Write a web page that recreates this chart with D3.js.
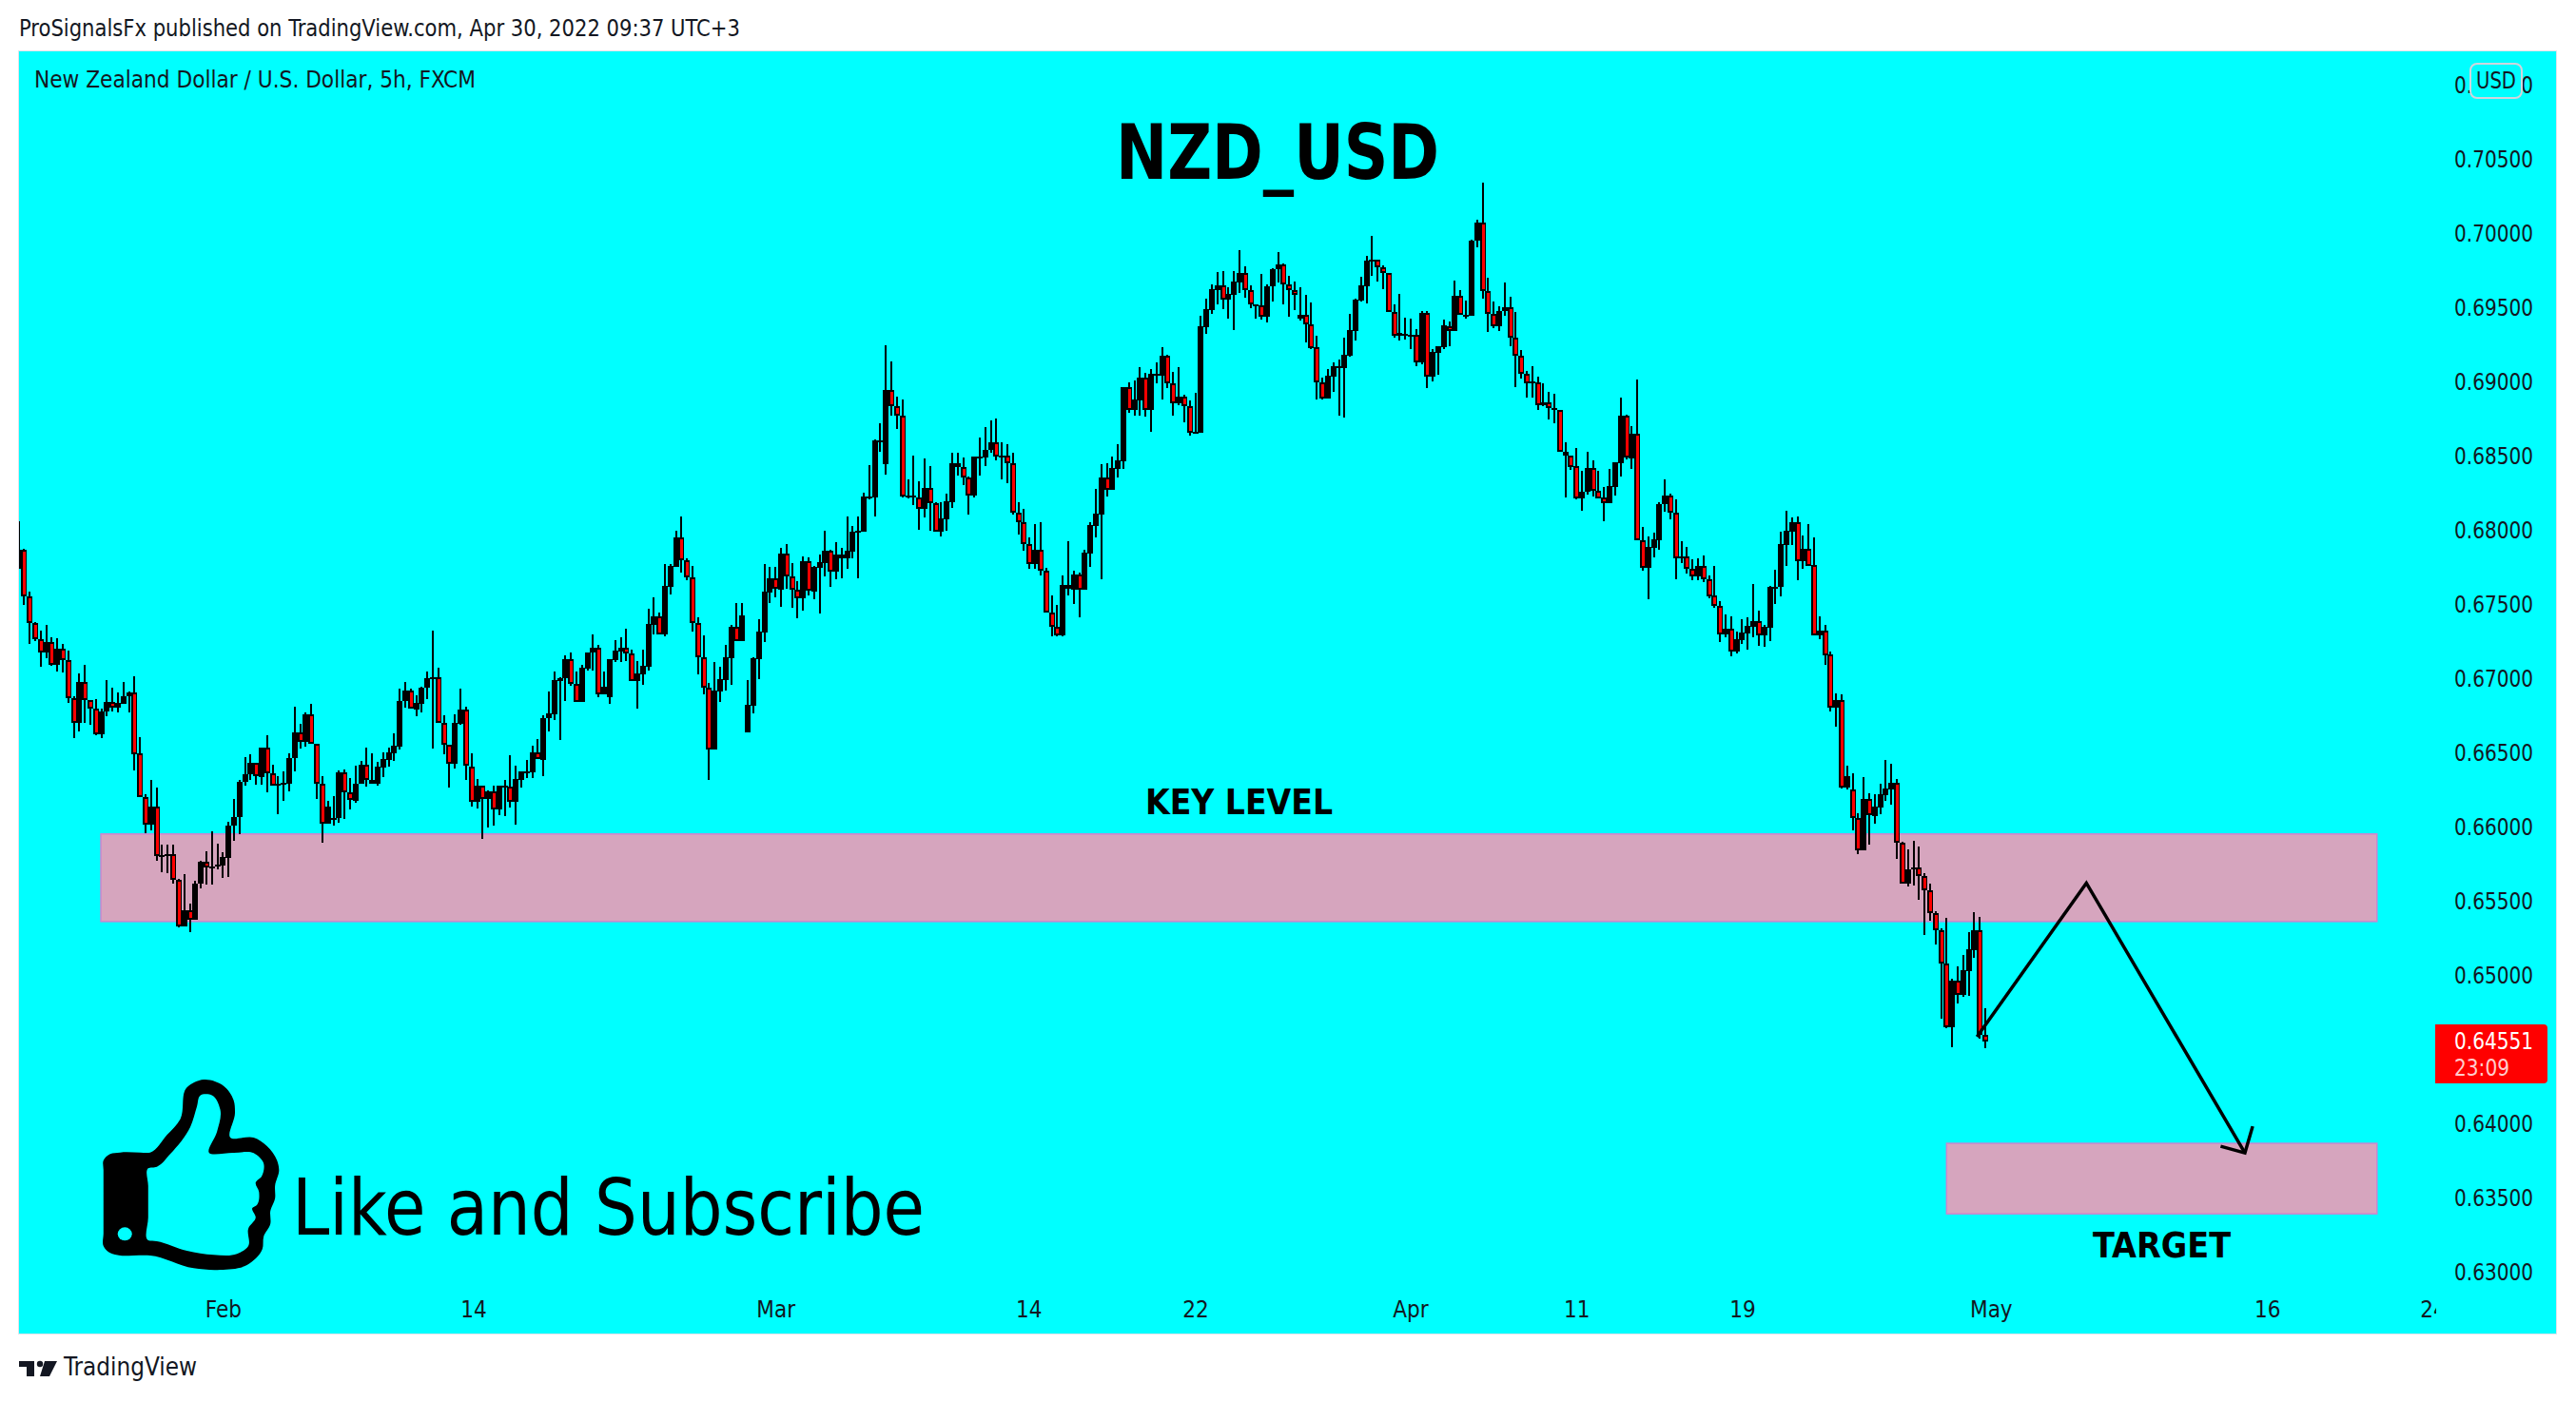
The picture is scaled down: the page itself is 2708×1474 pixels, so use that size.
<!DOCTYPE html>
<html><head><meta charset="utf-8">
<style>html,body{margin:0;padding:0;background:#fff}svg{display:block}
text{font-family:"DejaVu Sans Condensed","DejaVu Sans",sans-serif;fill:#131722}</style>
<script src="https://cdn.jsdelivr.net/npm/d3@7"></script>
</head><body><svg id="c" width="2708" height="1474"></svg>
<script>
// Prices are in points: 1 point = 0.00001
const POINT = 1e-5;
const opens = [67735,67863,67549,67374,67263,67175,67241,67092,67196,67119,
66863,66701,66972,66850,66797,66624,66773,66837,66799,66827,
66876,66901,66491,66197,66015,66132,65799,65805,65812,65639,
65329,65434,65374,65613,65761,65722,65729,65737,65790,66004,
66062,66299,66350,66427,66335,66530,66357,66273,66286,66286,
66459,66632,66568,66754,66556,66286,66019,66047,66055,66363,
66229,66173,66286,66414,66291,66288,66400,66451,66494,66541,
66844,66915,66788,66827,66934,66998,67009,66697,66549,66423,
66692,66786,66402,66164,66273,66186,66235,66117,66267,66267,
66169,66314,66365,66365,66498,66451,66729,66756,66981,66998,
67126,66964,66837,67064,67171,67203,66889,66869,67122,67179,
67207,67164,66978,67025,67079,67359,67414,67295,67617,67752,
67946,67793,67682,67374,67143,66938,66519,66912,66987,67137,
67344,67250,66634,66816,67128,67307,67579,67671,67596,67837,
67684,67594,67538,67786,67585,67746,67776,67857,67720,67835,
67805,67852,67981,67985,68216,68218,68598,68442,68942,68835,
68771,68226,68222,68220,68143,68280,68177,67985,68073,68186,
68447,68421,68353,68231,68485,68485,68536,68588,68491,68498,
68447,68113,68049,67901,67767,67863,67722,67444,67348,67290,
67626,67598,67696,67598,67842,68028,68104,68350,68271,68412,
68461,68959,68805,68872,69023,68810,69036,69036,69171,68989,
68855,68895,68835,68652,68654,69367,69483,69617,69645,69549,
69585,69669,69729,69613,69511,69513,69438,69639,69755,69787,
69656,69613,69423,69447,69383,69229,68996,68885,69032,69094,
69092,69173,69342,69547,69643,69810,69819,69767,69729,69466,
69306,69310,69308,69312,69131,69460,69034,69195,69231,69370,
69338,69575,69443,69443,69947,70069,69607,69453,69374,69472,
69498,69293,69171,69049,68987,68996,68838,68861,68806,68808,
68526,68498,68427,68211,68254,68414,68261,68216,68179,68288,
68451,68767,68481,68646,67928,67746,67879,67932,68171,68229,
68114,67810,67819,67740,67688,67755,67665,67556,67490,67297,
67332,67182,67257,67304,67349,67383,67291,67340,67609,67614,
67900,67990,68050,67789,67870,67761,67291,67319,67158,66804,
66853,66265,66248,66056,65842,66184,66073,66131,66214,66253,
66293,65889,65614,65710,65723,65665,65569,65415,65300,65075,
64650,64960,64864,65028,65169,65300,64594];
const highs = [68055,67869,67581,67376,67318,67357,67275,67267,67228,67186,
66878,67030,67087,66850,66859,66792,66985,66933,66901,66972,
66910,67010,66603,66216,66312,66261,65878,65878,65878,65647,
65677,65481,65634,65769,65833,65968,65884,65827,66032,66186,
66314,66468,66485,66427,66530,66613,66417,66337,66370,66491,
66808,66690,66769,66825,66556,66337,66171,66203,66376,66382,
66325,66408,66440,66530,66491,66434,66498,66530,66626,66927,
66972,66927,66885,66940,67043,67318,67068,66748,66549,66754,
66927,66806,66491,66318,66273,66241,66273,66273,66312,66479,
66408,66370,66449,66543,66588,66748,66908,67043,67006,67152,
67171,67045,67087,67171,67293,67222,67045,67126,67254,67275,
67331,67190,67113,67190,67466,67543,67440,67767,67767,67991,
68088,67805,67754,67408,67286,66966,67109,67077,67222,67357,
67504,67504,66987,67141,67397,67767,67750,67748,67878,67902,
67773,67652,67818,67814,67754,67831,67991,67865,67914,67878,
68088,68023,68088,68248,68434,68607,68718,69242,69135,68900,
68878,68340,68500,68327,68481,68429,68184,68184,68241,68519,
68517,68485,68359,68491,68622,68692,68735,68750,68588,68575,
68519,68184,68139,67946,68038,68049,67741,67557,67493,67692,
67921,67724,67709,67865,68049,68273,68440,68446,68491,68575,
68959,68991,69004,69096,69055,69081,69126,69229,69177,69062,
69096,68908,68869,68921,69440,69555,69652,69735,69741,69632,
69741,69882,69773,69645,69517,69725,69652,69763,69870,69793,
69710,69671,69633,69581,69530,69306,69024,69081,69126,69145,
69293,69453,69556,69703,69844,69979,69821,69780,69729,69517,
69588,69428,69421,69351,69472,69472,69216,69235,69415,69402,
69678,69613,69543,69955,70088,70338,69697,69537,69505,69665,
69569,69466,69210,69069,69101,69030,68985,68927,68915,68808,
68588,68498,68551,68397,68525,68468,68397,68288,68410,68455,
68891,68776,68699,69013,68020,67956,67981,68186,68340,68242,
68205,67923,67885,67802,67808,67827,67693,67757,67520,67430,
67417,67314,67398,67411,67635,67455,67359,67622,67731,67988,
68129,68084,68090,67962,68039,67949,67417,67359,67180,66898,
66891,66411,66359,66090,66334,66223,66218,66289,66449,66424,
66319,65898,65847,65904,65866,65684,65616,65430,65314,65383,
64973,65058,65135,65289,65423,65391,64776];
const lows = [67735,67493,67233,67250,67077,67134,67083,67045,67040,66833,
66596,66641,66698,66686,66613,66596,66743,66775,66769,66827,
66769,66378,66197,65955,65976,65769,65692,65686,65617,65322,
65329,65288,65374,65583,65609,65609,65711,65654,65660,65904,
65949,66276,66312,66282,66282,66231,66273,66083,66173,66237,
66372,66526,66538,66556,66186,65891,66019,66006,66026,66051,
66115,66160,66286,66269,66291,66276,66333,66404,66442,66519,
66801,66793,66744,66769,66857,66526,66697,66487,66263,66391,
66686,66314,66135,66122,65917,65993,66006,66077,66070,66128,
66013,66263,66327,66327,66453,66340,66641,66718,66583,66846,
66947,66837,66837,67051,67051,66869,66889,66827,67109,67107,
67115,66978,66795,66955,67051,67295,67295,67282,67564,67752,
67711,67660,67314,67025,66891,66314,66519,66837,66916,66955,
67250,67250,66634,66763,66993,67243,67506,67545,67481,67602,
67474,67404,67455,67558,67532,67436,67686,67615,67667,67673,
67737,67808,67673,67985,68205,68090,68526,68372,68771,68679,
68216,68211,68169,68002,68083,67993,67985,67955,67993,68147,
68365,68301,68102,68216,68365,68429,68517,68468,68340,68314,
68102,67968,67859,67737,67737,67692,67444,67282,67282,67282,
67557,67500,67410,67598,67750,67948,67666,68224,68271,68352,
68410,68788,68769,68769,68763,68660,68987,68878,68955,68769,
68840,68724,68634,68647,68654,69320,69455,69519,69487,69423,
69346,69596,69564,69493,69423,69417,69398,69537,69665,69519,
69436,69481,69408,69263,69220,68878,68878,68883,68930,68769,
68757,69165,69276,69537,69526,69712,69673,69622,69466,69293,
69276,69284,69218,69103,69116,68955,69000,69045,69218,69237,
69338,69447,69421,69443,69904,69558,69334,69359,69340,69443,
69237,68962,69019,68891,68891,68808,68831,68744,68718,68526,
68218,68404,68205,68128,68237,68224,68211,68058,68179,68231,
68359,68474,68410,67928,67725,67532,67814,67866,68122,68071,
67667,67776,67705,67661,67661,67648,67539,67475,67244,67276,
67148,67167,67231,67193,67276,67218,67212,67250,67500,67552,
67757,67898,67661,67737,67759,67291,67263,67090,66776,66673,
66255,66250,65975,65815,65842,65879,66020,66084,66174,66148,
65782,65614,65597,65603,65507,65270,65366,65205,64705,64641,
64513,64808,64853,64859,65116,64571,64507];
const closes = [67863,67549,67374,67263,67175,67241,67092,67196,67119,66863,
66701,66972,66850,66797,66624,66773,66837,66799,66833,66876,
66901,66489,66197,66015,66132,65799,65805,65812,65639,65329,
65434,65374,65613,65761,65722,65729,65741,65795,66004,66062,
66299,66350,66427,66340,66530,66357,66273,66288,66293,66459,
66632,66568,66754,66556,66286,66019,66132,66055,66363,66229,
66177,66286,66414,66312,66312,66402,66453,66498,66543,66844,
66915,66793,66831,66934,66998,67009,66697,66549,66423,66697,
66786,66408,66164,66273,66186,66235,66117,66273,66273,66167,
66318,66370,66372,66498,66453,66729,66761,66985,66998,67126,
66964,66837,67068,67171,67203,66889,66940,67126,67184,67207,
67164,66978,67030,67081,67363,67414,67297,67620,67754,67946,
67793,67682,67374,67143,66938,66519,66916,66991,67139,67344,
67250,67421,66820,67132,67312,67581,67671,67600,67837,67684,
67594,67540,67786,67587,67748,67780,67857,67720,67835,67805,
67857,67985,67991,68222,68222,68600,68603,68942,68835,68771,
68226,68231,68231,68143,68280,68177,67985,68075,68190,68447,
68421,68353,68233,68491,68491,68536,68588,68491,68498,68447,
68113,68049,67902,67767,67863,67722,67444,67348,67290,67626,
67600,67696,67598,67846,68030,68107,68350,68271,68414,68466,
68959,68805,68876,69023,68810,69049,69049,69171,68989,68855,
68895,68835,68652,68658,69370,69485,69620,69645,69549,69587,
69671,69729,69613,69517,69517,69438,69641,69755,69787,69656,
69613,69586,69447,69383,69225,68996,68885,69036,69101,69101,
69178,69344,69549,69646,69812,69819,69767,69729,69466,69306,
69325,69319,69314,69131,69460,69034,69197,69235,69376,69338,
69575,69447,69447,69947,70069,69607,69453,69374,69472,69498,
69293,69171,69049,68987,68998,68838,68861,68819,68819,68526,
68498,68423,68211,68254,68414,68261,68211,68179,68293,68455,
68767,68485,68647,67928,67746,67883,67934,68173,68229,68114,
67810,67819,67740,67688,67755,67665,67552,67490,67297,67332,
67182,67261,67306,67351,67383,67291,67344,67614,67618,67904,
67992,68050,67791,67870,67759,67291,67319,67156,66804,66851,
66265,66340,66056,65842,66184,66075,66133,66216,66255,66293,
65889,65614,65710,65723,65665,65569,65415,65300,65075,64650,
64960,64864,65030,65171,65300,64594,64551];

const priceTicks = [0.63,0.635,0.64,0.65,0.655,0.66,0.665,0.67,0.675,0.68,0.685,0.69,0.695,0.70,0.705,0.71];
const timeTickBars = [37,82.3,137,182.8,213,251.9,282,312,357,407,437];
const timeTickLabels = ["Feb","14","Mar","14","22","Apr","11","19","May","16","24"];
const keyZone = {bar0:14.9,bar1:426.9,top:0.65950,bottom:0.65360};
const targetZone = {bar0:349,bar1:426.9,top:0.63865,bottom:0.63390};
const pathBars = [354.5,374.3,403];
const pathPrices = [0.64583,0.65619,0.63800];
const headBars = [398.6,403,404.4];
const headPrices = [0.63845,0.63800,0.63980];
const lastPrice = "0.64551", countdown = "23:09";

const svg = d3.select("#c");
const L=20,R=2687,T=54,B=1402,AX=2560;
const x = d3.scaleLinear().domain([0,356]).range([19.5,2087]);
const y = d3.scaleLinear().domain([0.63,0.71]).range([1337,89]);

svg.append("rect").attr("x",L-.5).attr("y",T-.5).attr("width",R-L+1).attr("height",B-T+1)
  .attr("fill","#00ffff").attr("stroke","#e0e3eb").attr("stroke-width",1);
const defs = svg.append("defs");
defs.append("clipPath").attr("id","plot").append("rect").attr("x",L).attr("y",T).attr("width",AX-L).attr("height",B-T);

function txt(s,px,py,size,w,anchor,weight){
  const t=svg.append("text").attr("x",px).attr("y",py).attr("font-size",size).text(s);
  if(anchor)t.attr("text-anchor",anchor);
  if(weight)t.attr("font-weight",weight);
  if(w)t.attr("textLength",w).attr("lengthAdjust","spacingAndGlyphs");
  return t;
}
txt("ProSignalsFx published on TradingView.com, Apr 30, 2022 09:37 UTC+3",20,38,24,758);
txt("New Zealand Dollar / U.S. Dollar, 5h, FXCM",36,92,24,464);

const plot = svg.append("g").attr("clip-path","url(#plot)");
[keyZone,targetZone].forEach(z=>{
  plot.append("rect").attr("x",x(z.bar0)).attr("y",y(z.top)).attr("width",x(z.bar1)-x(z.bar0)).attr("height",y(z.bottom)-y(z.top))
   .attr("fill","#d6a5be").attr("stroke","#cc86cf").attr("stroke-width",1.5);
});
const bars = d3.range(opens.length);
const cg = plot.append("g").attr("shape-rendering","crispEdges");
const bx = i=>Math.round(x(i));
cg.selectAll("rect.w").data(bars).join("rect").attr("class","w")
  .attr("x",i=>bx(i)-1).attr("width",2)
  .attr("y",i=>y(highs[i]*POINT)).attr("height",i=>Math.max(1,y(lows[i]*POINT)-y(highs[i]*POINT))).attr("fill","#000");
const top_=i=>y(Math.max(opens[i],closes[i])*POINT), bot_=i=>y(Math.min(opens[i],closes[i])*POINT);
cg.selectAll("rect.b").data(bars).join("rect").attr("class","b")
  .attr("x",i=>bx(i)-3).attr("width",6)
  .attr("y",top_).attr("height",i=>Math.max(2,bot_(i)-top_(i))).attr("fill","#000");
cg.selectAll("rect.r").data(bars.filter(i=>closes[i]<opens[i])).join("rect").attr("class","r")
  .attr("x",i=>bx(i)-1).attr("width",2.5)
  .attr("y",i=>top_(i)+2).attr("height",i=>Math.max(0,bot_(i)-top_(i)-4)).attr("fill","#ff0000");

// drawings
const ln = d3.line().x(d=>x(d[0])).y(d=>y(d[1]));
plot.append("path").attr("d",ln(d3.zip(pathBars,pathPrices))).attr("fill","none").attr("stroke","#000").attr("stroke-width",3.5);
plot.append("path").attr("d",ln(d3.zip(headBars,headPrices))).attr("fill","none").attr("stroke","#000").attr("stroke-width",3.5);

txt("NZD_USD",1173,188,80,340,null,"bold").style("fill","#000");
txt("KEY LEVEL",1204,856,38,197,null,"bold").style("fill","#000");
txt("TARGET",2200,1322,38,145,null,"bold").style("fill","#000");
txt("Like and Subscribe",307,1298,82,665).style("fill","#000");

// thumb icon
const thumbOuter=[[165,400],[180,395],[210,395],[225,395],[250,340],[270,290],[280,190],[305,165],[335,185],[350,230],[352,270],[345,348],[380,348],[400,375],[415,420],[418,450],[412,500],[412,540],[405,580],[405,620],[395,660],[393,700],[370,750],[330,765],[290,760],[225,720],[200,720],[180,720],[165,712],[155,690],[155,650],[155,550],[155,450],[155,420]];
const thumbInner=[[222,445],[235,440],[255,400],[285,315],[295,250],[300,215],[318,215],[330,260],[325,330],[313,395],[350,396],[380,397],[395,430],[392,470],[383,490],[388,520],[385,560],[378,570],[383,600],[372,635],[372,690],[355,715],[320,718],[280,705],[235,675],[222,672],[222,600],[222,500]];
const map=p=>[p[0]/1.425,1080+p[1]/3];
const tl=d3.line().curve(d3.curveCatmullRomClosed.alpha(0.9));
svg.append("path").attr("d",tl(thumbOuter.map(map))).attr("fill","#000");
svg.append("path").attr("d",tl(thumbInner.map(map))).attr("fill","#00ffff");
svg.append("ellipse").attr("cx",187/1.425).attr("cy",1080+652/3).attr("rx",7.5).attr("ry",7).attr("fill","#00ffff");

// axes
const ax = svg.append("g").attr("transform",`translate(2580,0)`).call(d3.axisRight(y).tickValues(priceTicks).tickFormat(d3.format(".5f")).tickSize(0).tickPadding(0));
ax.select(".domain").remove();
ax.selectAll("text").attr("font-size",24).attr("font-family",null).attr("dy","0.36em").attr("textLength",83).attr("lengthAdjust","spacingAndGlyphs");
defs.append("clipPath").attr("id","timeclip").append("rect").attr("x",L).attr("y",B-60).attr("width",AX+1-L).attr("height",60);
const tx = svg.append("g").attr("clip-path","url(#timeclip)").append("g").attr("transform",`translate(0,${1376})`)
  .call(d3.axisBottom(x).tickValues(timeTickBars).tickFormat((d,i)=>timeTickLabels[i]).tickSize(0).tickPadding(0));
tx.select(".domain").remove();
tx.selectAll("text").attr("font-size",24).attr("font-family",null).attr("y",0).attr("dy","0.36em");

// USD button
svg.append("rect").attr("x",2597).attr("y",67).attr("width",54).attr("height",36).attr("rx",7).attr("fill","#00ffff").attr("stroke","#d1d4dc").attr("stroke-width",2);
txt("USD",2624,93,24,42,"middle");

// last price label
svg.append("path").attr("d","M2560 1077H2674a4 4 0 0 1 4 4V1135a4 4 0 0 1-4 4H2560Z").attr("fill","#ff0000");
txt(lastPrice,2580,1103,24,83).style("fill","#fff");
txt(countdown,2580,1131,24,58).style("fill","#ffcccc");

// logo
const lg=svg.append("g").attr("fill","#131722");
lg.append("path").attr("d","M20 1431H36V1447H28V1437H20Z");
lg.append("circle").attr("cx",42).attr("cy",1434).attr("r",3.2);
lg.append("path").attr("d","M47 1431H60L52 1447H42Z");
txt("TradingView",67,1446,26,140);
</script></body></html>
